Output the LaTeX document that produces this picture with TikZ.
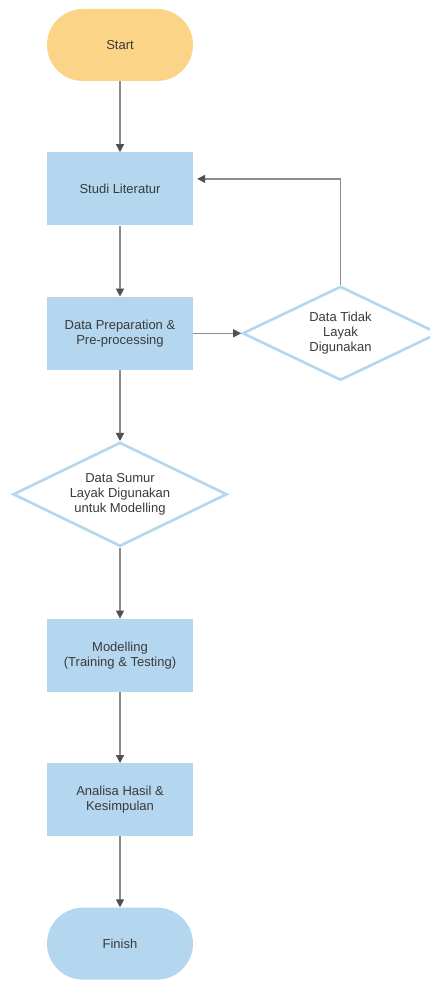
\documentclass[tikz,border=0pt]{standalone}
\usepackage{fontspec}
\setmainfont{Liberation Sans}
\usetikzlibrary{arrows.meta,shapes.geometric,positioning}

\definecolor{startyellow}{HTML}{FBD488}
\definecolor{boxblue}{HTML}{B4D7EF}
\definecolor{textgray}{HTML}{3A3A3A}
\definecolor{linegray}{HTML}{8C8C8C}
\definecolor{tipgray}{HTML}{505050}

\begin{document}
\begin{tikzpicture}[
  node distance=71pt,
  font=\fontsize{13}{15}\selectfont,
  terminal/.style={rounded corners=36pt, minimum width=146pt, minimum height=72pt, text=textgray},
  process/.style={fill=boxblue, align=center, minimum width=146pt, minimum height=73pt, inner sep=2pt, text=textgray},
  decision/.style={diamond, aspect=2, draw=boxblue, line width=2.6pt, fill=white, align=center, inner sep=0pt, text=textgray},
  arrow/.style={-{Triangle[length=8pt, width=8pt, color=tipgray]}, draw=linegray, line width=1.3pt}
]
\useasboundingbox (-120pt,45pt) rectangle (310pt,-936pt);

\node[terminal, fill=startyellow] (start) at (0,0) {Start};
\node[process, below=of start] (lit) {Studi Literatur};
\node[process, below=of lit] (prep) {Data Preparation \&\\Pre-processing};
\node[decision, minimum width=196pt, minimum height=94pt, right=48pt of prep] (tidak) {Data Tidak\\Layak\\Digunakan};
\node[decision, minimum width=214pt, minimum height=104pt, below=of prep] (layak) {Data Sumur\\Layak Digunakan\\untuk Modelling};
\node[process, below=of layak] (model) {Modelling\\(Training \& Testing)};
\node[process, below=of model] (hasil) {Analisa Hasil \&\\Kesimpulan};
\node[terminal, fill=boxblue, below=of hasil] (finish) {Finish};

\coordinate (back) at ([xshift=4pt, yshift=10pt]lit.east);

\draw[arrow] (start) -- (lit);
\draw[arrow] (lit) -- (prep);
\draw[arrow] (prep) -- (tidak);
\draw[arrow] (tidak.north) |- (back);
\draw[arrow] (prep) -- (layak);
\draw[arrow] (layak) -- (model);
\draw[arrow] (model) -- (hasil);
\draw[arrow] (hasil) -- (finish);
\end{tikzpicture}
\end{document}
